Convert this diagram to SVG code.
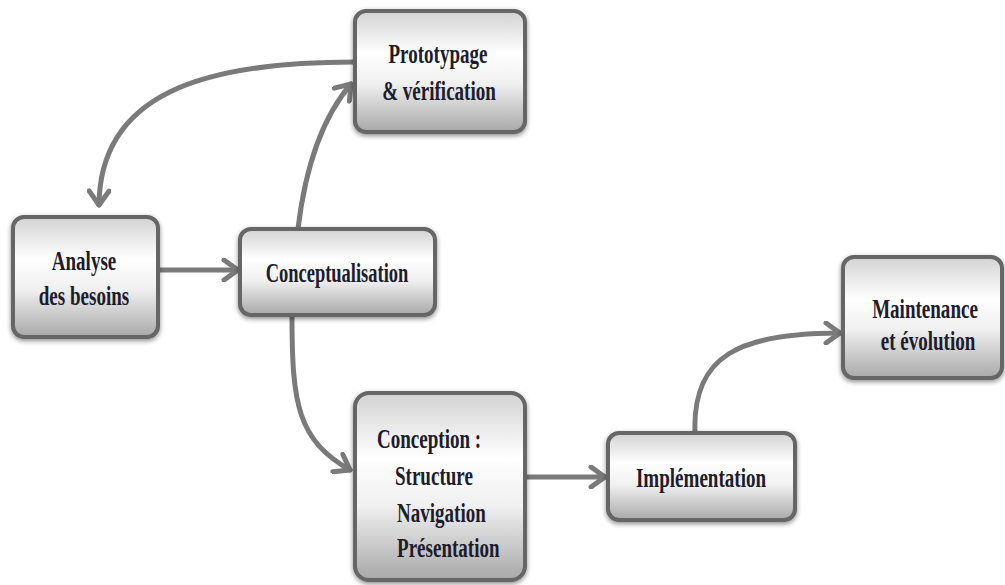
<svg xmlns="http://www.w3.org/2000/svg" width="1005" height="585" viewBox="0 0 1005 585">
  <style>
    .box { stroke: #666666; stroke-width: 4; fill: url(#boxFill); filter: url(#soft); }
    .lbl { font-family: "Liberation Serif", "Times New Roman", serif; font-weight: bold; font-size: 28px; fill: #1c1c2c; }
    .mid { text-anchor: middle; }
    .link { fill: none; stroke: #7a7a7a; stroke-width: 5; stroke-linecap: round; marker-end: url(#chev); }
  </style>
  <defs>
    <linearGradient id="boxFill" x1="0" y1="0" x2="0" y2="1">
      <stop offset="0" stop-color="#d2d2d2"/>
      <stop offset="0.35" stop-color="#ffffff"/>
      <stop offset="0.6" stop-color="#f0f0f0"/>
      <stop offset="1" stop-color="#a8a8a8"/>
    </linearGradient>
    <filter id="soft" x="-10%" y="-10%" width="120%" height="125%">
      <feGaussianBlur in="SourceAlpha" stdDeviation="2.5"/>
      <feOffset dx="0" dy="2" result="b"/>
      <feComponentTransfer><feFuncA type="linear" slope="0.45"/></feComponentTransfer>
      <feMerge><feMergeNode/><feMergeNode in="SourceGraphic"/></feMerge>
    </filter>
    <marker id="chev" viewBox="0 0 24 24" refX="20" refY="12" markerWidth="24" markerHeight="24" markerUnits="userSpaceOnUse" orient="auto">
      <path d="M6,2 L20,12 L6,22" fill="none" stroke="#7a7a7a" stroke-width="5" stroke-linecap="round" stroke-linejoin="round"/>
    </marker>
  </defs>
  <rect width="1005" height="585" fill="#ffffff"/>

  <g id="connectors">
    <path class="link" d="M160,270 L238,270"/>
    <path class="link" d="M298,229 C305,170 320,120 351,84"/>
    <path class="link" d="M355,62 C200,62 100,95 99,205"/>
    <path class="link" d="M292,317 C292,405 298,440 350,470"/>
    <path class="link" d="M527,477 L605,477"/>
    <path class="link" d="M695,433 C692,355 740,333 840,333"/>
  </g>

  <!-- labels use a horizontally condensed bold serif -->
  <g id="prototypage">
    <rect class="box" x="355" y="11" width="170" height="121" rx="11"/>
    <text class="lbl mid" transform="translate(438,63) scale(0.68,1)">Prototypage</text>
    <text class="lbl mid" transform="translate(439,100) scale(0.68,1)">&amp; vérification</text>
  </g>

  <g id="analyse">
    <rect class="box" x="13" y="217" width="145" height="120" rx="11"/>
    <text class="lbl mid" transform="translate(84,270) scale(0.68,1)">Analyse</text>
    <text class="lbl mid" transform="translate(84,305) scale(0.68,1)">des besoins</text>
  </g>

  <g id="conceptualisation">
    <rect class="box" x="240" y="229" width="195" height="86" rx="11"/>
    <text class="lbl mid" transform="translate(337,282) scale(0.66,1)">Conceptualisation</text>
  </g>

  <g id="conception">
    <rect class="box" x="355" y="393" width="170" height="187" rx="14"/>
    <text class="lbl" transform="translate(377,448) scale(0.68,1)">Conception :</text>
    <text class="lbl" transform="translate(395,485) scale(0.68,1)">Structure</text>
    <text class="lbl" transform="translate(397,522) scale(0.68,1)">Navigation</text>
    <text class="lbl" transform="translate(397,557) scale(0.68,1)">Présentation</text>
  </g>

  <g id="implementation">
    <rect class="box" x="608" y="433" width="187" height="87" rx="11"/>
    <text class="lbl mid" transform="translate(701,487) scale(0.68,1)">Implémentation</text>
  </g>

  <g id="maintenance">
    <rect class="box" x="843" y="257" width="159" height="121" rx="11"/>
    <text class="lbl mid" transform="translate(925,318) scale(0.68,1)">Maintenance</text>
    <text class="lbl mid" transform="translate(928,350) scale(0.68,1)">et évolution</text>
  </g>
</svg>
